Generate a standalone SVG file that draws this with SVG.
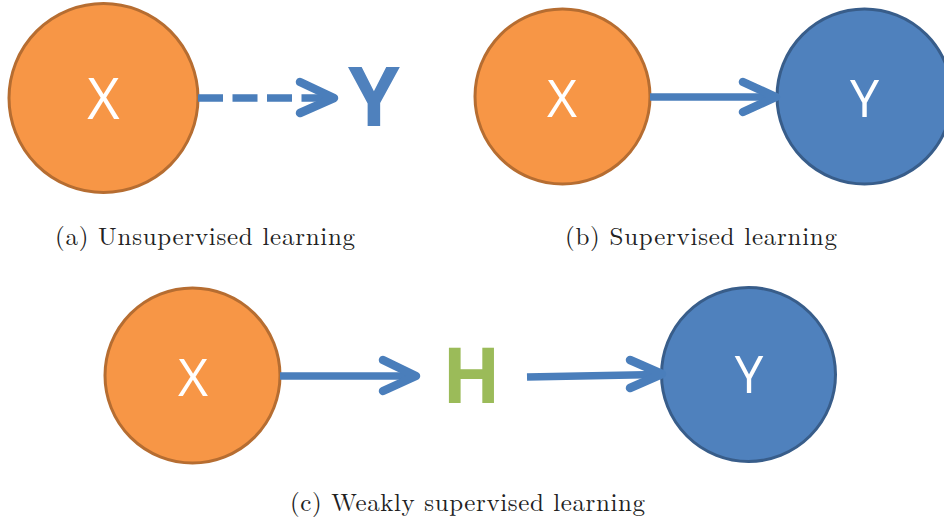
<svg xmlns="http://www.w3.org/2000/svg" width="944" height="522" viewBox="0 0 944 522">
  <style>
    .orange { fill: #F79646; stroke: #B66D31; stroke-width: 3; }
    .blue { fill: #4F81BD; stroke: #385D8A; stroke-width: 3; }
    .inner { font-family: "Open Sans", "DejaVu Sans", sans-serif; fill: #FFFFFF; text-anchor: middle; }
    .big { font-family: "Open Sans", "DejaVu Sans", sans-serif; font-weight: bold; text-anchor: middle; }
    .shaft { fill: none; stroke: #4A7EBB; stroke-width: 7.5; }
    .head { fill: none; stroke: #4A7EBB; stroke-width: 8.5; stroke-linecap: round; stroke-linejoin: round; }
    .caption { font-family: "Latin Modern Roman", "Liberation Serif", "DejaVu Serif", serif; font-size: 25px; fill: #222222; }
  </style>

  <!-- (a) unsupervised -->
  <g id="a-x">
    <circle class="orange" cx="103.5" cy="98" r="94.5"/>
    <text class="inner" x="103.5" y="119" font-size="56">X</text>
  </g>
  <g id="a-y">
    <text class="big" x="374" y="126" font-size="83" fill="#4F81BD">Y</text>
  </g>

  <!-- (b) supervised -->
  <g id="b-x">
    <circle class="orange" cx="562.5" cy="96.5" r="87.5"/>
    <text class="inner" x="562" y="117" font-size="52">X</text>
  </g>
  <g id="b-y">
    <circle class="blue" cx="864.5" cy="96.5" r="87.5"/>
    <text class="inner" x="864.5" y="117" font-size="52">Y</text>
  </g>

  <!-- (c) weakly supervised -->
  <g id="c-x">
    <circle class="orange" cx="192.5" cy="375.5" r="87.5"/>
    <text class="inner" x="193" y="396" font-size="52">X</text>
  </g>
  <g id="c-h">
    <text class="big" x="471.5" y="403" font-size="77" fill="#9BBB59">H</text>
  </g>
  <g id="c-y">
    <circle class="blue" cx="748.5" cy="374.5" r="87"/>
    <text class="inner" x="749" y="393" font-size="51">Y</text>
  </g>

  <g id="connectors">
    <!-- X to Y, dashed -->
    <line class="shaft" x1="198" y1="98" x2="330" y2="98" stroke-dasharray="25 9.5"/>
    <polyline class="head" points="300,82 334,98 300,113"/>
    <!-- X to Y, solid -->
    <line class="shaft" x1="650" y1="97" x2="772" y2="97"/>
    <polyline class="head" points="743,82 776,97 743,112"/>
    <!-- X to H -->
    <line class="shaft" x1="280" y1="376" x2="412" y2="376"/>
    <polyline class="head" points="383,360 416,376 383,391"/>
    <!-- H to Y -->
    <line class="shaft" x1="527" y1="377" x2="658" y2="374.5"/>
    <polyline class="head" points="630,360 662,374 630,388"/>
  </g>

  <g id="captions">
    <text class="caption" x="55" y="245" textLength="300" lengthAdjust="spacing">(a) Unsupervised learning</text>
    <text class="caption" x="565" y="245" textLength="272" lengthAdjust="spacing">(b) Supervised learning</text>
    <text class="caption" x="290" y="511" textLength="355" lengthAdjust="spacing">(c) Weakly supervised learning</text>
  </g>
</svg>
